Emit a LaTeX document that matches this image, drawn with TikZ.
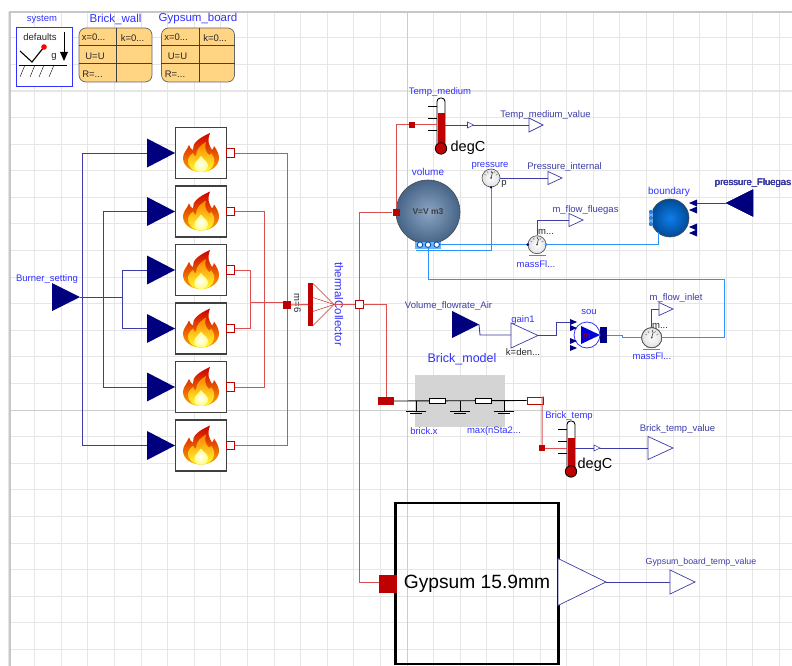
\documentclass[tikz,border=0pt]{standalone}
\usepackage{fontspec}
\setmainfont{Liberation Sans}
\definecolor{modblue}{RGB}{50,50,255}
\definecolor{modnavy}{RGB}{0,0,127}
\definecolor{sigblue}{RGB}{60,60,165}
\definecolor{modred}{RGB}{191,0,0}
\definecolor{heatred}{RGB}{218,80,80}
\definecolor{fluidblue}{RGB}{45,145,250}
\definecolor{gridgrey}{RGB}{230,230,230}
\definecolor{recordfill}{RGB}{255,212,130}
\definecolor{steellight}{RGB}{140,165,195}
\definecolor{steeldark}{RGB}{70,100,135}
\definecolor{boundlight}{RGB}{15,125,235}
\definecolor{bounddark}{RGB}{0,75,150}
\tikzset{
  lbl/.style={inner sep=0pt, text=modblue, font=\fontsize{9.5}{11}\selectfont},
  siglbl/.style={lbl, text=sigblue},
  blacklbl/.style={inner sep=0pt, text=black!85, font=\fontsize{9.5}{11}\selectfont},
  sigline/.style={draw=sigblue, line width=0.9pt},
  heatline/.style={draw=heatred, line width=1pt},
  fluidline/.style={draw=fluidblue, line width=0.9pt},
  burnerbox/.style={draw=black!75, line width=1.3pt, fill=white, minimum size=51, inner sep=0pt},
  hollowport/.style={draw=modred, line width=0.7pt, fill=white, minimum size=8, inner sep=0pt},
  solidport/.style={fill=modred, minimum size=7, inner sep=0pt},
  gaugebox/.style={circle, draw=black!70, line width=0.6pt, inner color=white, outer color=black!12, minimum size=18, inner sep=0pt},
  stembox/.style={draw=black, line width=0.9pt, rounded corners=3.5, fill=white, minimum width=8, minimum height=50, inner sep=0pt}
}
% triangles: name, centre x, centre y, width, height, draw options
\newcommand{\triright}[6]{
  \node[minimum width=#4, minimum height=#5, inner sep=0pt, outer sep=0pt] (#1) at (#2,#3) {};
  \path[#6] (#1.north west) -- (#1.east) -- (#1.south west) -- cycle;
}
\newcommand{\trileft}[6]{
  \node[minimum width=#4, minimum height=#5, inner sep=0pt, outer sep=0pt] (#1) at (#2,#3) {};
  \path[#6] (#1.north east) -- (#1.west) -- (#1.south east) -- cycle;
}
% flame on the middle of a burner
\newcommand{\flame}[2]{
  \begin{scope}[shift={(#1,#2)}]
    \shade[top color=red!80!black, middle color=orange!90!red, bottom color=orange!70!yellow]
      (0,19) .. controls (-10,19) and (-18,13) .. (-18,5) .. controls (-18,0) and (-14,-3) .. (-12,-8)
      .. controls (-11,-5) and (-10,-4) .. (-8,-3) .. controls (-9,-10) and (-2,-15) .. (9,-20)
      .. controls (6,-12) and (8,-8) .. (11,-3) .. controls (12,-4) and (13,-6) .. (13,-7)
      .. controls (16,-3) and (18,1) .. (18,5) .. controls (18,13) and (10,19) .. (0,19);
    \shade[top color=orange, bottom color=yellow!80!white]
      (0,19) .. controls (-8,19) and (-14,13) .. (-13,7) .. controls (-12,3) and (-10,2) .. (-8,0)
      .. controls (-7,3) and (-6,3) .. (-5,3) .. controls (-5,-4) and (0,-8) .. (5,-11)
      .. controls (3,-5) and (5,-1) .. (8,2) .. controls (9,2) and (10,1) .. (10,0)
      .. controls (13,4) and (14,7) .. (13,10) .. controls (12,15) and (8,19) .. (0,19);
    \shade[inner color=white, outer color=yellow!50!white]
      (0,19) .. controls (-6,19) and (-8,14) .. (-6,10) .. controls (-4,7) and (-1,5) .. (0,3)
      .. controls (2,6) and (6,8) .. (7,12) .. controls (7,16) and (4,19) .. (0,19);
  \end{scope}
}
% thermometer: name, centre x, centre y, height of the red part
\newcommand{\thermo}[4]{
  \node[stembox] (#1) at (#2,#3) {};
  \fill[modred] ([xshift=-3.5]#1.south) rectangle ([xshift=3.5,yshift=#4]#1.south);
  \fill[modred, draw=black, line width=0.8pt] (#1.south) circle (5.7);
  \foreach \t in {-17,-5,7}
    \draw[black, line width=0.5pt] ([yshift=-\t]#1.west) -- ++(-9,0);
}
% gauge face
\newcommand{\gaugeface}[1]{
  \foreach \a in {-150,-120,...,-30}
    \draw[black!60, line width=0.4pt] (#1.center) ++(\a:7.5) -- ++(\a:-2);
  \draw[black!70, line width=0.7pt] (#1.center) -- ++(-75:6);
  \fill[black!70] (#1.center) circle (1);
}

\begin{document}
\begin{tikzpicture}[x=1pt,y=-1pt]
\useasboundingbox (0,0) rectangle (792,666);
\fill[white] (0,0) rectangle (792,666);
% Grid
\foreach \k in {0,...,29}
  \draw[gridgrey, line width=0.8pt] ({8+26.6*\k},12) -- ({8+26.6*\k},666);
\foreach \k in {0,...,24}
  \draw[gridgrey, line width=0.8pt] (10,{11+26.6*\k}) -- (792,{11+26.6*\k});
\draw[gridgrey, line width=1.5pt] (10,90.8) -- (792,90.8);
\draw[black!20, line width=1pt] (407,12) -- (407,666);
\draw[black!20, line width=1pt] (10,410) -- (792,410);
\draw[black!22, line width=1.3pt] (792,12) -- (10,12) -- (10,666);

% System and records
\node[draw=modblue, line width=0.7pt, fill=white, minimum width=56, minimum height=59, inner sep=0pt] (system) at (44,56.5) {};
\node[lbl] (systemlabel) at (42,19) {system};
\node[blacklbl] (defaults) at (40,37) {defaults};
\node[blacklbl] (gravity) at (54,57) {g};
\draw[black, line width=0.5pt] (64,32) -- (64,52);
\fill[black] (60,52) -- (68,52) -- (64,61) -- cycle;
\draw[black, line width=1.1pt] (20,51) -- (32,62) -- (44,47);
\fill[red] (44,47) circle (2.8);
\draw[black, line width=0.7pt] (19,65) -- (67,65);
\foreach \h in {25,35,44,54}
  \draw[black, line width=0.4pt] (\h,65) -- ++(-5,12);

\foreach \n/\cx/\txt in {brickwall/115.5/Brick\_wall,gypsumboard/198/Gypsum\_board}{
  \node[draw=black!60, line width=0.7pt, fill=recordfill, rounded corners=7, minimum width=73, minimum height=54, inner sep=0pt] (\n) at (\cx,55) {};
  \draw[black!75, line width=0.6pt] ([xshift=1]\n.north) -- ([xshift=1]\n.south);
  \draw[black!75, line width=0.6pt] ([yshift=-18]\n.north west) -- ([yshift=-18]\n.north east);
  \draw[black!75, line width=0.6pt] ([yshift=-36]\n.north west) -- ([yshift=-36]\n.north east);
  \node[blacklbl] (\n x) at (\cx-22,37) {x=0...};
  \node[blacklbl] (\n k) at (\cx+17,38.5) {k=0...};
  \node[blacklbl] (\n u) at (\cx-20.5,56) {U=U};
  \node[blacklbl] (\n r) at (\cx-23,74) {R=...};
  \node[lbl, font=\fontsize{11.5}{13}\selectfont] (\n label) at (\cx,19) {\txt};
}

% Burners
\node[lbl] (settinglabel) at (47,279) {Burner\_setting};
\triright{setting}{66}{297}{28}{28}{fill=modnavy}
\coordinate (trunka) at (82,297);
\coordinate (trunkb) at (103,297);
\coordinate (trunkc) at (122,297);
\foreach \i/\y in {1/153,2/211.5,3/270,4/328.5,5/387,6/445.5}{
  \node[burnerbox] (burner\i) at (201,\y) {};
  \flame{201}{\y}
  \triright{heatin\i}{161}{\y}{28}{29}{fill=modnavy}
  \node[hollowport, minimum size=8.5] (heatport\i) at (230.5,\y) {};
}
\draw[sigline] (setting.east) -- (trunkc);
\draw[sigline] (heatin1.west) -| (trunka);
\draw[sigline] (heatin6.west) -| (trunka);
\draw[sigline] (heatin2.west) -| (trunkb);
\draw[sigline] (heatin5.west) -| (trunkb);
\draw[sigline] (heatin3.west) -| (trunkc);
\draw[sigline] (heatin4.west) -| (trunkc);

% Thermal collector
\node[fill=modred, minimum width=4.5, minimum height=43, inner sep=0pt] (collbar) at (310.5,304.5) {};
\coordinate (apex) at (334,304.5);
\foreach \d in {-21,-7,7,21}
  \draw[modred!80, line width=0.5pt] ([yshift=\d]collbar.east) -- (apex);
\node[solidport, minimum size=8] (joinport) at (287,305) {};
\node[hollowport] (collport) at (359,304.5) {};
\node[blacklbl, rotate=-90] (colllabel) at (297.5,303) {m=6};
\node[lbl, rotate=-90, font=\fontsize{11.5}{13}\selectfont] (collname) at (339,304) {thermalCollector};
\coordinate (joina) at (250,302);
\coordinate (joinb) at (264,302);
\draw[heatline] (heatport3.east) -| (joina);
\draw[heatline] (heatport4.east) -| (joina);
\draw[heatline] (heatport2.east) -| (joinb);
\draw[heatline] (heatport5.east) -| (joinb);
\draw[heatline] (heatport1.east) -| (joinport.north);
\draw[heatline] (heatport6.east) -| (joinport.south);
\draw[heatline] (joina) -- (joinport.west |- joina);
\draw[heatline] (joinport.east) -- (collbar.west);
\draw[heatline] (apex) -- (collport.west);

% Volume and its sensors
\node[circle, draw=black!70, line width=0.6pt, inner color=steellight, outer color=steeldark, minimum size=64, inner sep=0pt, font=\fontsize{8.5}{10}\selectfont\bfseries, text=black!75] (volume) at (428,212) {V=V m3};
\node[lbl, font=\fontsize{10}{12}\selectfont] (volumelabel) at (428,172) {volume};
\node[fill=fluidblue!70, minimum width=26, minimum height=7, inner sep=0pt] (volports) at (428,245) {};
\foreach \p/\x in {a/420,b/428,c/436.7}
  \node[circle, draw=modnavy!70!cyan, line width=0.8pt, fill=white, minimum size=5.5, inner sep=0pt] (volport\p) at (\x,244.7) {};
\node[solidport, minimum size=7] (volumeport) at (396,212) {};
\node[solidport, minimum size=6] (tempport) at (412,125) {};
\coordinate (volcorner) at (396,125);
\draw[heatline] (collport.north) |- (volumeport.west);
\draw[heatline] (volumeport.north) -- (volcorner) -- (tempport.west);

% Temperature of the medium
\thermo{tempstem}{441}{123}{35}
\node[lbl] (templabel) at (440,92) {Temp\_medium};
\node[inner sep=0pt, font=\fontsize{14.5}{16}\selectfont] (tempunit) at (468,148) {degC};
\draw[heatline] (tempport.east) -- (tempstem.west |- tempport);
\triright{tempvalue}{536}{125}{14}{14}{draw=sigblue, fill=white, line width=0.7pt}
\node[siglbl] (tempvaluelabel) at (545.5,115) {Temp\_medium\_value};
\draw[sigline] (tempstem.east |- tempport) -- (tempvalue.west);
\triright{temparrow}{470.5}{125}{6}{6}{draw=sigblue, fill=white, line width=0.6pt}

% Pressure
\node[gaugebox] (pressure) at (491,178) {};
\gaugeface{pressure}
\node[lbl] (pressurelabel) at (490,166) {pressure};
\node[blacklbl] (pressurep) at (504,184) {p};
\triright{pressvalue}{555}{178}{14}{13}{draw=sigblue, fill=white, line width=0.7pt}
\node[siglbl] (pressvaluelabel) at (564.5,167) {Pressure\_internal};
\draw[sigline] (pressure.east) -- (pressvalue.west);

% Flue gas flow
\node[gaugebox] (massflow) at (537,244.7) {};
\gaugeface{massflow}
\draw[fluidblue, line width=0.6pt] (529,255) -- (546,255);
\node[lbl] (massflowlabel) at (536,264) {massFl...};
\node[blacklbl] (massflowm) at (546,232) {m...};
\triright{flowvalue}{576}{220}{14}{13}{draw=sigblue, fill=white, line width=0.7pt}
\node[siglbl] (flowvaluelabel) at (585.5,210) {m\_flow\_fluegas};
\coordinate (flowtop) at (537,220);
\draw[sigline] (massflow.north) -- (flowtop) -- (flowvalue.west);
\node[circle, draw=black!70, line width=0.6pt, inner color=boundlight, outer color=bounddark, minimum size=38, inner sep=0pt] (boundary) at (670,218) {};
\node[lbl, font=\fontsize{10}{12}\selectfont] (boundarylabel) at (669,192) {boundary};
\node[fill=fluidblue!70, minimum width=4.5, minimum height=16, inner sep=0pt] (boundport) at (651,218) {};
\foreach \y in {212,218,224}
  \draw[modnavy!70!cyan, line width=0.5pt] (651,\y) circle (1.5);
\foreach \n/\y in {a/203,b/210,c/227,d/233}
  \trileft{boundin\n}{693}{\y}{8}{7}{fill=modnavy}
\trileft{fluegas}{739.5}{203}{27}{27}{fill=modnavy}
\node[siglbl] (fluegaslabel) at (753,183) {pressure\_Fluegas};
\draw[sigline] (fluegas.west) -- (boundina.east);
\coordinate (boundfoot) at (658,244.7);
\coordinate (boundleg) at (658,232);
\draw[fluidline] (volportc.east) -- (massflow.west);
\draw[fluidline] (massflow.east) -- (boundfoot) -- (boundleg);
\coordinate (pressfoot) at (491,250);
\coordinate (volfoot) at (416,250);
\draw[fluidline] (volfoot) -- (pressfoot) -- (pressure.south);
\fill[modnavy] (pressure.south) circle (1.3);
\fill[modnavy] (massflow.west) circle (1.5);
\draw[fluidblue] (massflow.east) circle (1.3);

% Air supply
\triright{airflow}{465.5}{324.5}{27}{27}{fill=modnavy}
\node[siglbl] (airflowlabel) at (448.5,306) {Volume\_flowrate\_Air};
\triright{gain}{524.5}{335.5}{27}{25}{draw=sigblue, fill=white, line width=0.7pt}
\node[lbl] (gainlabel) at (523,320) {gain1};
\node[blacklbl] (gaink) at (523,352) {k=den...};
\node[fill=modnavy, minimum width=7, minimum height=16, inner sep=0pt] (soublock) at (603.5,335) {};
\node[circle, draw=modblue, line width=0.8pt, fill=white, minimum size=26, inner sep=0pt] (sou) at (587,335) {};
\fill[blue!85!black] (581,326) -- (600,335) -- (581,344) -- cycle;
\node[inner sep=0pt, text=red!70!black, font=\fontsize{8.5}{10}\selectfont] (soumark) at (587,336) {m};
\node[lbl] (soulabel) at (589,312) {sou};
\foreach \n/\y in {a/322,b/328,c/341,d/348}
  \triright{souin\n}{573.5}{\y}{7}{6}{fill=modnavy}
\node[gaugebox, minimum size=20] (massflowb) at (651.7,337.7) {};
\gaugeface{massflowb}
\draw[fluidblue, line width=0.6pt] (643,349) -- (660,349);
\node[lbl] (massflowblabel) at (652,356) {massFl...};
\node[blacklbl] (massflowbm) at (660,326) {m...};
\triright{inletvalue}{666}{309}{14}{13}{draw=sigblue, fill=white, line width=0.7pt}
\node[siglbl] (inletvaluelabel) at (676,298) {m\_flow\_inlet};
\coordinate (inlettop) at (651.7,309);
\draw[sigline] (massflowb.north) -- (inlettop) -- (inletvalue.west);
\coordinate (airbend) at (480,335);
\coordinate (gainbend) at (556,322);
\draw[sigline] (airflow.east) -- (airbend) -- (gain.west |- airbend);
\draw[sigline] (gain.east) -| (gainbend) -- (souina.west);
\coordinate (soustep) at (622,335);
\draw[fluidline] (soublock.east) -- (soustep) |- (massflowb.west);
\coordinate (loopa) at (428,279);
\coordinate (loopb) at (724,279);
\coordinate (loopc) at (724,337.7);
\draw[fluidline] (volportb.south) -- (loopa) -- (loopb) -- (loopc) -- (massflowb.east);

% Brick wall model
\node[fill=black!17, minimum width=90, minimum height=52, inner sep=0pt] (brick) at (460,401) {};
\node[lbl, font=\fontsize{12.5}{14}\selectfont] (bricklabel) at (462,359) {Brick\_model};
\node[lbl] (brickx) at (424,431) {brick.x};
\node[lbl] (brickmax) at (494,431) {max(nSta2...};
\node[fill=modred, minimum width=16, minimum height=8, inner sep=0pt] (brickin) at (386,401) {};
\node[hollowport, minimum width=16, minimum height=7] (brickout) at (535,400.5) {};
\draw[black, line width=0.9pt] (brickin.east) -- (brickout.west);
\foreach \n/\x in {a/437.5,b/483}
  \node[draw=black, line width=0.7pt, fill=white, minimum width=16, minimum height=5, inner sep=0pt] (brickres\n) at (\x,401) {};
\foreach \x in {416,460,504}{
  \draw[black, line width=0.9pt] (\x,401) -- (\x,411);
  \draw[black, line width=0.8pt] (\x-10,411) -- (\x+10,411);
  \draw[black, line width=0.6pt] (\x-6,413.5) -- (\x+6,413.5);
}
\draw[heatline] (collport.east) -| (brickin.north);

% Brick temperature
\thermo{brickstem}{571}{446}{33}
\node[lbl] (bricktemplabel) at (569,416) {Brick\_temp};
\node[inner sep=0pt, font=\fontsize{14.5}{16}\selectfont] (brickunit) at (595,465) {degC};
\node[solidport, minimum size=6] (bricktempport) at (542,448) {};
\coordinate (brickcorner) at (542,397.5);
\draw[heatline] (brickout.north east) -- (brickcorner) -- (bricktempport.north);
\draw[heatline] (bricktempport.east) -- (brickstem.west |- bricktempport);
\triright{brickvalue}{660.5}{448}{25}{23}{draw=sigblue, fill=white, line width=0.7pt}
\node[siglbl] (brickvaluelabel) at (677.5,429) {Brick\_temp\_value};
\draw[sigline] (brickstem.east |- bricktempport) -- (brickvalue.west);
\triright{brickarrow}{597}{448}{6}{6}{draw=sigblue, fill=white, line width=0.6pt}

% Gypsum board
\node[draw=black, line width=2.6pt, fill=none, minimum width=163, minimum height=161, inner sep=0pt, font=\fontsize{19.2}{21}\selectfont] (gypsum) at (477,583.5) {Gypsum 15.9mm};
\node[fill=modred, minimum size=18, inner sep=0pt] (gypsumport) at (388,583.5) {};
\triright{gypsumtri}{582}{582}{48}{47}{draw=sigblue, fill=white, line width=0.7pt}
\triright{gypsumvalue}{682.5}{582}{25}{24}{draw=sigblue, fill=white, line width=0.7pt}
\node[siglbl, font=\fontsize{8.8}{10}\selectfont] (gypsumvaluelabel) at (701,562) {Gypsum\_board\_temp\_value};
\draw[sigline] (gypsumtri.east) -- (gypsumvalue.west);
\coordinate (gypsumcorner) at (359,582);
\draw[heatline] (collport.south) -- (gypsumcorner) -- (gypsumport.west |- gypsumcorner);
\end{tikzpicture}
\end{document}
